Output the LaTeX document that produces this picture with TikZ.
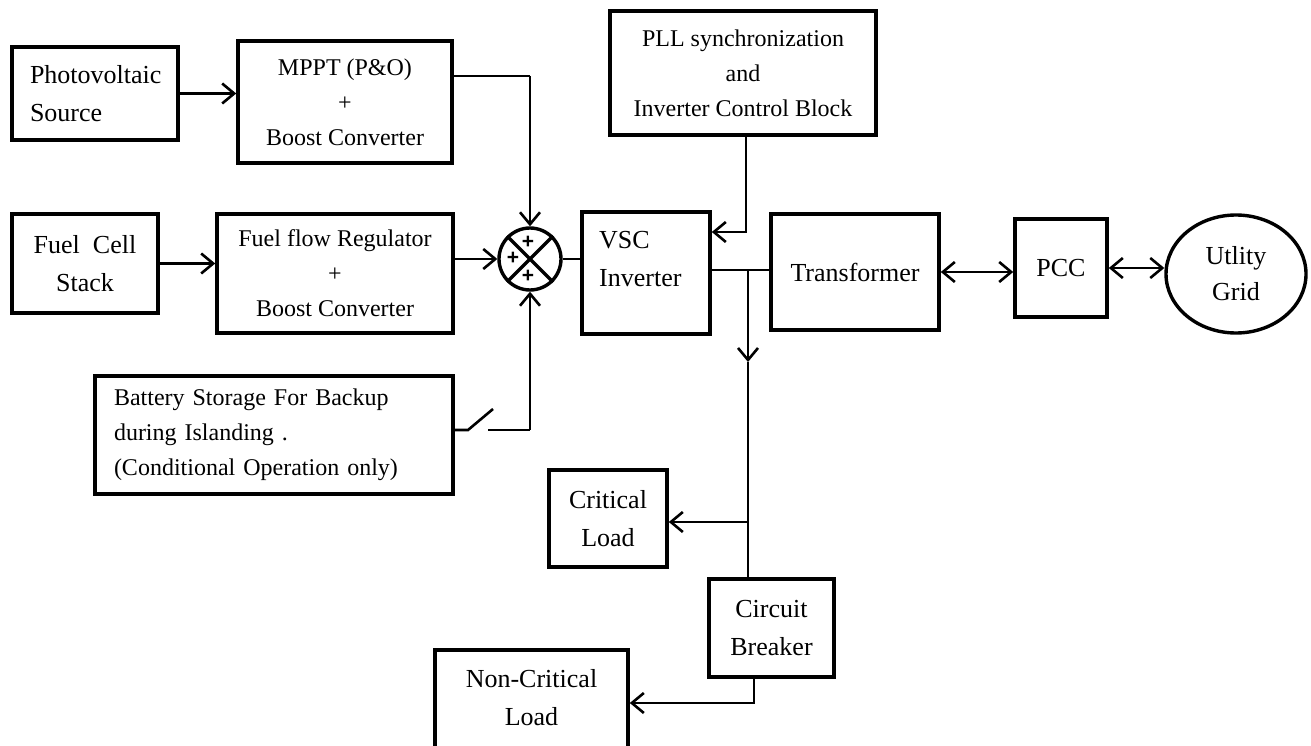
\documentclass[tikz,border=0pt]{standalone}
\usepackage{fontspec}
\setmainfont{Liberation Serif}
\newfontfamily\plusfont{Liberation Sans}
\usetikzlibrary{arrows.meta,shapes.geometric}
\begin{document}
\begin{tikzpicture}[x=1pt,y=-1pt,
  box/.style={draw, line width=3.6pt, inner sep=0pt, align=center, font=\fontsize{26}{37.5}\selectfont},
  sbox/.style={box, font=\fontsize{24}{35}\selectfont},
  conn/.style={line width=2.6pt},
  tip/.tip={Straight Barb[length=12pt,width=20pt,line width=2.6pt]},
  arr/.style={conn, -tip},
  darr/.style={conn, tip-tip},
  plus/.style={font=\plusfont\bfseries\fontsize{21}{21}\selectfont, inner sep=0pt},
  txt/.style={inner sep=0pt, align=left, font=\fontsize{26}{37.5}\selectfont}
]
\clip (0,0) rectangle (1311,746);
\fill[white] (0,0) rectangle (1311,746);

% blocks
\node[box, minimum width=166, minimum height=93, align=left, text width=130] (pv) at (95,93.5) {Photovoltaic\\Source};
\node[sbox, minimum width=214, minimum height=122] (mppt) at (345,102) {MPPT (P\&O)\\+\\Boost Converter};
\node[box, minimum width=146, minimum height=99] (fc) at (85,263.5) {Fuel\ \ Cell\\Stack};
\node[sbox, minimum width=236, minimum height=119] (ffr) at (335,273.5) {Fuel flow Regulator\\+\\Boost Converter};
\node[sbox, minimum width=358, minimum height=118, align=left, text width=320] (bat) at (274,435) {Battery Storage For Backup\\during Islanding .\\(Conditional Operation only)};
\node[circle, draw, line width=3.4pt, minimum size=62, inner sep=0pt] (sum) at (530,259) {};
\node[box, minimum width=128, minimum height=122] (vsc) at (646,273) {};
\node[txt, anchor=west] (vsct) at (599,259) {VSC\\Inverter};
\node[sbox, minimum width=266, minimum height=124] (pll) at (743,73) {PLL synchronization\\and\\Inverter Control Block};
\node[box, minimum width=168, minimum height=116] (tr) at (855,272) {Transformer};
\node[box, minimum width=92, minimum height=98] (pcc) at (1061,268) {PCC};
\node[ellipse, draw, line width=3.4pt, minimum width=140, minimum height=118, inner sep=0pt, align=center, font=\fontsize{26}{36}\selectfont] (grid) at (1236,274) {Utlity\\Grid};
\node[box, minimum width=118, minimum height=97] (cl) at (608,518.5) {Critical\\Load};
\node[box, minimum width=125, minimum height=98] (cb) at (771.5,628) {Circuit\\Breaker};
\node[box, minimum width=193, minimum height=130] (ncl) at (531.5,715) {};
\node[txt, align=center] (nclt) at (531.5,697.5) {Non-Critical\\Load};

% summing junction
\draw[line width=3.4pt] (sum.45) -- (sum.225) (sum.135) -- (sum.315);
\node[plus] (p1) at (528,242) {+};
\node[plus] (p2) at (513,258) {+};
\node[plus] (p3) at (528,276) {+};

% coordinates
\coordinate (m1) at (530,76);
\coordinate (s1) at (468,430);
\coordinate (s2) at (493,409);
\coordinate (s3) at (488,430);
\coordinate (s4) at (530,430);
\coordinate (q1) at (746,232);
\coordinate (b0) at (748,270);
\coordinate (b1) at (748,362);
\coordinate (b2) at (748,522);
\coordinate (c1) at (754,703);

% connectors
\draw[arr] (pv.east) -- (mppt.west |- pv.east);
\draw[conn] (mppt.east |- m1) -- (m1);
\draw[arr] (m1) -- (sum.north);
\draw[arr] (fc.east) -- (ffr.west |- fc.east);
\draw[arr] (ffr.east |- sum.west) -- (sum.west);
\draw[conn] (bat.east |- s1) -- (s1) -- (s2);
\draw[conn] (s3) -- (s4);
\draw[arr] (s4) -- (sum.south);
\draw[conn] (sum.east) -- (vsc.west |- sum.east);
\draw[arr] (pll.south -| q1) -- (q1) -- (vsc.east |- q1);
\draw[conn] (vsc.east |- b0) -- (tr.west |- b0);
\draw[arr] (b0) -- (b1);
\draw[conn] (b1) -- (cb.north -| b1);
\draw[arr] (b2) -- (cl.east |- b2);
\draw[darr] (tr.east) -- (pcc.west |- tr.east);
\draw[darr] (pcc.east) -- (grid.west |- pcc.east);
\draw[arr] (cb.south -| c1) -- (c1) -- (ncl.east |- c1);
\end{tikzpicture}
\end{document}
